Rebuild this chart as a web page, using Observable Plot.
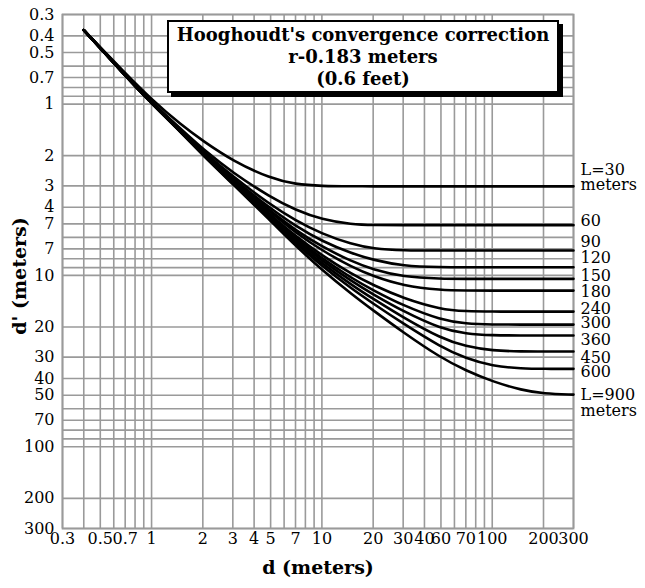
<!DOCTYPE html>
<html><head><meta charset="utf-8">
<script src="https://cdn.jsdelivr.net/npm/d3@7"></script>
<script src="https://cdn.jsdelivr.net/npm/@observablehq/plot@0.6"></script>
<style>
body{margin:0;background:#fff;}
#wrap{position:relative;width:645px;height:588px;}
#title{position:absolute;left:167px;top:20px;width:392px;height:73px;box-sizing:border-box;border:2px solid #000;background:#fff;box-shadow:4px 4px 0 #000;font:bold 18px "DejaVu Serif",serif;text-align:center;line-height:22px;padding-top:2px;color:#000;}
#ytitle{position:absolute;left:19px;top:276px;transform:translate(-50%,-50%) rotate(-90deg);white-space:nowrap;font:bold 19px "DejaVu Serif",serif;color:#000;line-height:1;}
</style></head>
<body><div id="wrap"><div id="chart"></div><div id="title">Hooghoudt's convergence correction<br>r-0.183 meters<br>(0.6 feet)</div><div id="ytitle"></div></div>
<script>
// drain spacing L (meters)
const spacings = [30, 60, 90, 120, 150, 180, 240, 300, 360, 450, 600, 900];
// depth to impermeable layer d (meters), sample points
const dValues = [0.4, 0.7, 1, 1.5, 2, 3, 5, 7, 10, 15, 20, 30, 50, 70, 100, 150, 200, 300];
// equivalent depth d' (meters) read for each spacing
const dPrime30  = [0.37,0.66,0.94,1.33,1.64,2.15,2.72,2.94,3.01,3.02,3.02,3.02,3.02,3.02,3.02,3.02,3.02,3.02];
const dPrime60  = [0.37,0.67,0.97,1.41,1.83,2.52,3.50,4.15,4.72,5.04,5.09,5.09,5.09,5.09,5.09,5.09,5.09,5.09];
const dPrime90  = [0.37,0.67,0.98,1.43,1.88,2.65,3.87,4.78,5.72,6.58,6.98,7.16,7.16,7.16,7.16,7.16,7.16,7.16];
const dPrime120 = [0.37,0.68,0.98,1.44,1.91,2.72,4.08,5.15,6.32,7.45,8.12,8.82,8.96,8.96,8.96,8.96,8.96,8.96];
const dPrime150 = [0.37,0.68,0.98,1.45,1.93,2.76,4.22,5.45,6.80,8.30,9.25,10.2,10.47,10.47,10.47,10.47,10.47,10.47];
const dPrime180 = [0.37,0.68,0.99,1.45,1.94,2.79,4.30,5.62,7.15,8.95,10.1,11.5,12.2,12.26,12.26,12.26,12.26,12.26];
const dPrime240 = [0.37,0.68,0.99,1.46,1.95,2.83,4.45,5.90,7.65,9.85,11.4,13.6,15.8,16.2,16.26,16.26,16.26,16.26];
const dPrime300 = [0.37,0.68,0.99,1.46,1.96,2.85,4.52,6.05,7.95,10.4,12.2,15.0,18.2,19.15,19.36,19.36,19.36,19.36];
const dPrime360 = [0.37,0.68,0.99,1.46,1.97,2.87,4.60,6.20,8.20,10.85,12.9,16.2,20.5,21.9,22.4,22.4,22.4,22.4];
const dPrime450 = [0.37,0.68,0.99,1.47,1.97,2.89,4.66,6.35,8.50,11.4,13.7,17.6,23.3,26.0,27.5,27.8,27.8,27.8];
const dPrime600 = [0.37,0.68,0.99,1.47,1.98,2.91,4.72,6.50,8.80,12.0,14.6,19.1,26.2,30.5,33.8,35.0,35.1,35.1];
const dPrime900 = [0.37,0.68,0.99,1.47,1.99,2.93,4.80,6.70,9.30,12.9,16.0,21.5,30.3,35.9,41.6,46.8,49.0,49.6];
const series = [dPrime30,dPrime60,dPrime90,dPrime120,dPrime150,dPrime180,dPrime240,dPrime300,dPrime360,dPrime450,dPrime600,dPrime900];

// curve end labels and the d' value they sit at
const endLabels = ["L=30\nmeters","60","90","120","150","180","240","300","360","450","600","L=900\nmeters"];
const endLabelY = [2.7, 4.85, 6.43, 7.97, 10.15, 12.6, 15.8, 19.1, 24.0, 30.2, 36.9, 55.6];

// axis ticks and labels (as printed)
const xTicks = [0.3,0.5,0.7,1,2,3,4,5,7,10,20,30,40,50,70,100,200,300];
const xTickLabels = ["0.3","0.5","0.7","1","2","3","4","5","7","10","20","30","40","60","70","100","200","300"];
const yTicks = [0.3,0.4,0.5,0.7,1,2,3,4,5,7,10,20,30,40,50,70,100,200,300];
const yTickLabels = ["0.3","0.4","0.5","0.7","1","2","3","4","7","7","10","20","30","40","50","70","100","200","300"];
const gridValues = [0.3,0.4,0.5,0.6,0.7,0.8,0.9,1,2,3,4,5,6,7,8,9,10,20,30,40,50,60,70,80,90,100,200,300];
const xTitle = "d (meters)";
const yTitle = "d' (meters)";

const rows = [];
spacings.forEach((L, k) => dValues.forEach((d, i) => rows.push({L, d, dp: series[k][i]})));
const labelRows = endLabels.map((t, i) => ({t, y: endLabelY[i]}));
const xFmt = new Map(xTicks.map((v, i) => [v, xTickLabels[i]]));
const yFmt = new Map(yTicks.map((v, i) => [v, yTickLabels[i]]));

const grid = "#9a9a9a";
const chart = Plot.plot({
  width: 645,
  height: 588,
  marginLeft: 62,
  marginRight: 72,
  marginTop: 14,
  marginBottom: 60,
  style: {fontFamily: "'DejaVu Serif', serif", fontSize: "16px", color: "#000", background: "#fff"},
  x: {type: "log", domain: [0.3, 300], axis: null},
  y: {type: "log", domain: [0.3, 300], reverse: true, axis: null},
  marks: [
    Plot.gridX(gridValues, {stroke: grid, strokeOpacity: 1, strokeWidth: 1.6}),
    Plot.gridY(gridValues, {stroke: grid, strokeOpacity: 1, strokeWidth: 1.6}),
    Plot.frame({stroke: grid, strokeWidth: 1.8}),
    Plot.text(xTicks, {x: v => v, text: v => xFmt.get(v), frameAnchor: "bottom", lineAnchor: "top", dy: 4, fill: "#000"}),
    Plot.text(yTicks, {y: v => v, text: v => yFmt.get(v), frameAnchor: "left", textAnchor: "end", dx: -8, fill: "#000"}),
    Plot.text([xTitle], {text: d => d, frameAnchor: "bottom", dy: 45, fontWeight: "bold", fontSize: 19, fill: "#000"}),
    Plot.line(rows, {x: "d", y: "dp", z: "L", stroke: "#000", strokeWidth: 2.6, curve: "basis"}),
    Plot.text(labelRows, {y: "y", text: "t", frameAnchor: "right", textAnchor: "start", dx: 7, lineHeight: 0.95, fill: "#000"})
  ]
});
document.getElementById("chart").appendChild(chart);
document.getElementById("ytitle").textContent = yTitle;
</script>
</body></html>
